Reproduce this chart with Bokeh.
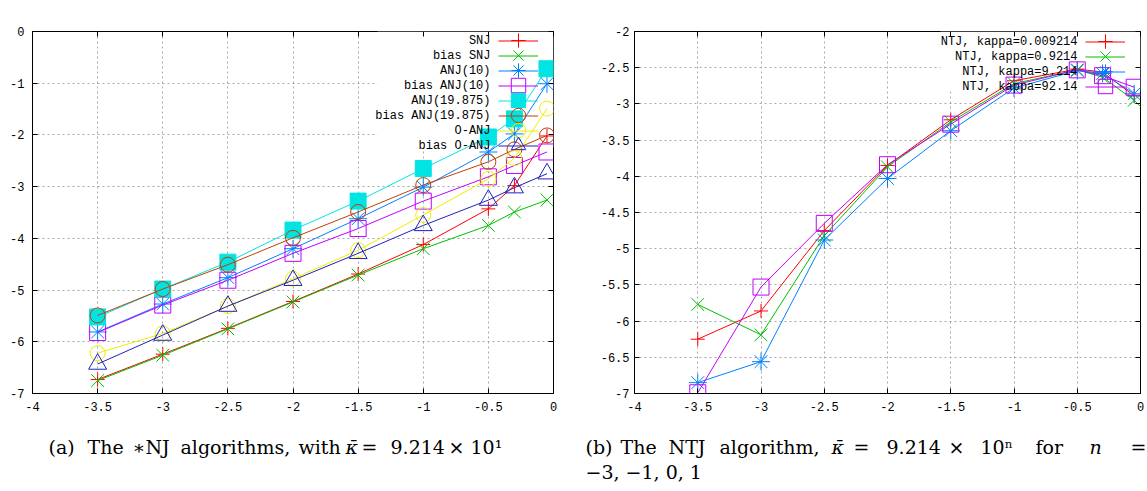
from bokeh.plotting import figure
from bokeh.models import (Range1d, FixedTicker, LinearAxis, Legend, LegendItem,
                          Label, CustomJSTickFormatter, BoxAnnotation)
from bokeh.layouts import column, row
from bokeh.core.properties import value
from bokeh.embed import file_html
from bokeh.resources import INLINE

# ---------------- data ----------------
log_h = [-3.5, -3.0, -2.5, -2.0, -1.5, -1.0, -0.5, -0.3, -0.05]

# (a) *NJ algorithms, kappa = 92.14
snj         = [-6.73, -6.24, -5.74, -5.22, -4.69, -4.12, -3.43, -2.98, -2.02]
bias_snj    = [-6.75, -6.26, -5.75, -5.23, -4.71, -4.20, -3.75, -3.49, -3.26]
anj10       = [-5.81, -5.27, -4.76, -4.20, -3.62, -3.01, -2.33, -1.98, -1.01]
bias_anj10  = [-5.82, -5.29, -4.81, -4.29, -3.81, -3.28, -2.81, -2.59, -2.33]
anj19       = [-5.52, -4.98, -4.46, -3.84, -3.28, -2.65, -2.04, -1.69, -0.72]
bias_anj19  = [-5.49, -4.98, -4.51, -3.99, -3.49, -2.97, -2.52, -2.28, -2.01]
o_anj       = [-6.22, -5.84, -5.31, -4.78, -4.23, -3.55, -2.85, -2.45, -1.49]
bias_o_anj  = [-6.43, -5.87, -5.31, -4.81, -4.29, -3.75, -3.26, -3.02, -2.75]
names_a = ["SNJ", "bias SNJ", "ANJ(10)", "bias ANJ(10)", "ANJ(19.875)",
           "bias ANJ(19.875)", "O-ANJ", "bias O-ANJ"]
series_a = [snj, bias_snj, anj10, bias_anj10, anj19, bias_anj19, o_anj, bias_o_anj]

# (b) NTJ algorithm for several kappa
ntj_k0009214 = [-6.25, -5.86, -4.75, -3.85, -3.22, -2.68, -2.52, -2.56, -2.89]
ntj_k09214   = [-5.77, -6.19, -4.82, -3.87, -3.25, -2.72, -2.53, -2.63, -2.95]
ntj_k9214    = [-6.85, -6.56, -4.88, -4.03, -3.37, -2.78, -2.54, -2.58, -2.86]
ntj_k9214b   = [-6.99, -5.53, -4.65, -3.84, -3.28, -2.74, -2.53, -2.61, -2.77]
names_b = ["NTJ, kappa=0.009214", "NTJ, kappa=0.9214", "NTJ, kappa=9.214", "NTJ, kappa=92.14"]
series_b = [ntj_k0009214, ntj_k09214, ntj_k9214, ntj_k9214b]

x_ticks = [-4, -3.5, -3, -2.5, -2, -1.5, -1, -0.5, 0]
y_ticks_a = [-7, -6, -5, -4, -3, -2, -1, 0]
y_ticks_b = [-7, -6.5, -6, -5.5, -5, -4.5, -4, -3.5, -3, -2.5, -2]

title_a = "Error in terms of h (Log scale), kappa=92.14"
title_b = "NTJ : Error in terms of h (Log scale), and kappa"

KAPPA = "\u03ba\u0304"
caption_a = [("(a)", 48, "normal"), ("The", 87, "normal"), ("\u2217NJ", 132, "normal"),
             ("algorithms,", 180, "normal"), ("with", 298, "normal"), (KAPPA, 345, "italic"),
             ("=", 361, "normal"), ("9.214", 390, "normal"), ("\u00d7", 448, "normal"),
             ("10\u00b9", 470, "normal")]
caption_b1 = [("(b)", 585, "normal"), ("The", 620, "normal"), ("NTJ", 668, "normal"),
              ("algorithm,", 719, "normal"), (KAPPA, 831, "italic"), ("=", 853, "normal"),
              ("9.214", 886, "normal"), ("\u00d7", 948, "normal"), ("10\u207f", 980, "normal"),
              ("for", 1035, "normal"), ("n", 1089, "italic"), ("=", 1130, "normal")]
caption_b2 = [("\u22123, \u22121, 0, 1", 585, "normal")]

# ---------------- styles ----------------
MONO = "Liberation Mono"
style_a = [("#ff0000", "cross", None, 14), ("#00c000", "x", None, 18),
           ("#0080ff", "asterisk", None, 18), ("#c000ff", "square", None, 16),
           ("#00e4e4", "square", "#00e4e4", 16), ("#c04000", "circle", None, 15),
           ("#eeee00", "circle", None, 15), ("#2020c0", "triangle", None, 18)]
style_b = style_a[:4]

H = 420
TOP = 31
BOTTOM = 27
FRAME_H = H - TOP - BOTTOM


def make_plot(width, mb_left, mb_right, y_lo, y_hi, y_ticks, title, ylab_standoff, key_left, key_bottom):
    p = figure(width=width, height=H, x_range=Range1d(-4, 0), y_range=Range1d(y_lo, y_hi),
               output_backend="svg", toolbar_location=None,
               min_border_left=mb_left, min_border_right=mb_right,
               min_border_top=TOP, min_border_bottom=BOTTOM,
               background_fill_color="white", border_fill_color="white")
    frame_w = width - mb_left - mb_right
    p.add_layout(Label(x=frame_w / 2, y=FRAME_H + 21.5, x_units="screen", y_units="screen",
                       text=title, text_align="center", text_baseline="middle",
                       text_font=MONO, text_font_size="12px", text_color="black"))
    p.outline_line_color = "black"
    p.outline_line_alpha = 1.0
    p.outline_line_width = 1

    fmt = CustomJSTickFormatter(code="return tick.toString();")
    p.xaxis.ticker = FixedTicker(ticks=x_ticks)
    p.yaxis.ticker = FixedTicker(ticks=y_ticks)
    p.xaxis.formatter = fmt
    p.yaxis.formatter = fmt
    for ax, st in ((p.xaxis, 8), (p.yaxis, ylab_standoff)):
        ax.axis_line_color = None
        ax.major_tick_in = 5
        ax.major_tick_out = 0
        ax.major_tick_line_color = "black"
        ax.minor_tick_line_color = None
        ax.major_label_text_font = MONO
        ax.major_label_text_font_size = "12px"
        ax.major_label_text_color = "black"
        ax.major_label_standoff = st
    blank = CustomJSTickFormatter(code="return '';")
    top = LinearAxis(ticker=FixedTicker(ticks=x_ticks), formatter=blank, axis_line_color=None,
                     major_tick_in=5, major_tick_out=0, minor_tick_line_color=None,
                     major_label_standoff=0, major_label_text_font_size="1px")
    right = LinearAxis(ticker=FixedTicker(ticks=y_ticks), formatter=blank, axis_line_color=None,
                       major_tick_in=5, major_tick_out=0, minor_tick_line_color=None,
                       major_label_standoff=0, major_label_text_font_size="1px")
    p.add_layout(top, "above")
    p.add_layout(right, "right")

    p.xgrid.grid_line_color = "#a8a8a8"
    p.ygrid.grid_line_color = "#a8a8a8"
    p.xgrid.grid_line_dash = "2 3"
    p.ygrid.grid_line_dash = "2 3"
    # the key area hides the grid (as gnuplot does), but not the data
    p.add_layout(BoxAnnotation(left=key_left, right=frame_w, bottom=key_bottom, top=FRAME_H,
                               left_units="screen", right_units="screen",
                               bottom_units="screen", top_units="screen",
                               fill_color="white", fill_alpha=1.0, line_color=None,
                               level="underlay"))
    return p


def add_series(p, series, names, styles, text_right, glyph_left, row0):
    GH = 36
    n = len(series)
    line_items = []
    marker_items = []
    for i, (ys, name, (col, mk, fill, sz)) in enumerate(zip(series, names, styles)):
        lr = p.line(log_h, ys, line_color=col, line_width=1)
        sr = p.scatter(log_h, ys, marker=mk, size=sz, line_color=col, fill_color=fill,
                       fill_alpha=1.0 if fill else 0.0, line_width=1)
        cy = row0 + 15 * i
        p.add_layout(Label(x=text_right, y=(H - BOTTOM) - cy, x_units="screen", y_units="screen",
                           text=name, text_align="right", text_baseline="middle",
                           text_font=MONO, text_font_size="12px", text_color="black"))
        line_items.append(LegendItem(label=value(" " * (i + 1)), renderers=[lr]))
        marker_items.append((cy, LegendItem(label=value(" " * (i + 1)), renderers=[sr])))
    # sample lines: one legend, rows 15 px apart
    vy = (H - BOTTOM) - (row0 - 7.5 + 15 * n)
    p.add_layout(Legend(items=line_items, location=(glyph_left, vy), glyph_width=40,
                        glyph_height=15, spacing=0, label_width=0, label_height=0,
                        label_standoff=0, padding=0, margin=0, border_line_color=None,
                        background_fill_alpha=0.0, label_text_font_size="1px"))
    # sample markers: one small legend per row so that they get full size
    for cy, item in marker_items:
        vy = (H - BOTTOM) - (cy + GH / 2)
        p.add_layout(Legend(items=[item], location=(glyph_left, vy), glyph_width=40,
                            glyph_height=GH, spacing=0, label_width=0, label_height=0,
                            label_standoff=0, padding=0, margin=0, border_line_color=None,
                            background_fill_alpha=0.0, label_text_font_size="1px"))


W1 = 594
p1 = make_plot(W1, 32, W1 - 553, -7, 0, y_ticks_a, title_a, 8, 345, 246)
add_series(p1, series_a, names_a, style_a, 458, 466, 40)

W2 = 1147 - W1
p2 = make_plot(W2, 40, 7, -7, -2, y_ticks_b, title_b, 5, 306, 302)
add_series(p2, series_b, names_b, style_b, 443, 451, 41)

cap = figure(width=1147, height=71, x_range=Range1d(0, 1147), y_range=Range1d(71, 0),
             output_backend="svg", toolbar_location=None, x_axis_type=None, y_axis_type=None,
             min_border=0, border_fill_color="white", background_fill_color="white")
cap.outline_line_color = None
cap.grid.visible = False
SERIF = "DejaVu Serif"
for words, base in ((caption_a, 26), (caption_b1, 26), (caption_b2, 51)):
    for txt, x, style in words:
        cap.add_layout(Label(x=x, y=base, text=txt, text_font=SERIF, text_font_size="19px",
                             text_font_style=style, text_color="black",
                             text_align="left", text_baseline="alphabetic"))

layout = column(row(p1, p2), cap)
open("out.html", "w").write(file_html(layout, INLINE))
